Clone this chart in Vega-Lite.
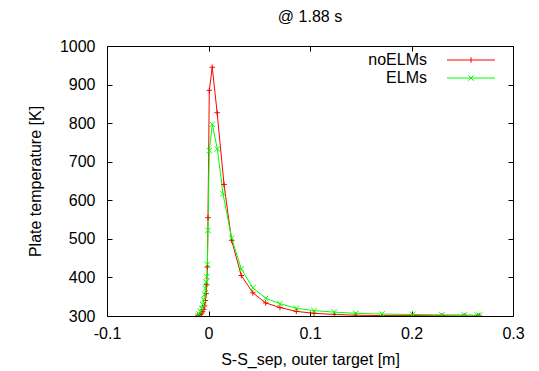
{
  "$schema": "https://vega.github.io/schema/vega-lite/v6.json",
  "width": 406,
  "height": 270,
  "autosize": "none",
  "padding": {"left": 107, "top": 46, "right": 26, "bottom": 55},
  "background": "white",
  "title": {"text": "@ 1.88 s", "fontSize": 16, "font": "Liberation Sans", "fontWeight": "normal", "color": "black", "frame": "group", "anchor": "middle", "offset": 13},
  "config": {
    "view": {"stroke": "black", "strokeWidth": 1},
    "font": "Liberation Sans",
    "axis": {"domain": false, "grid": false, "labelFlush": false, "tickColor": "black", "tickSize": -5, "tickWidth": 1, "labelFont": "Liberation Sans", "labelFontSize": 16, "labelColor": "black", "titleFont": "Liberation Sans", "titleFontSize": 16, "titleFontWeight": "normal", "titleColor": "black"},
    "legend": {"labelFont": "Liberation Sans", "labelFontSize": 16, "labelColor": "black"}
  },
  "data": {"values": [
    {"s": -0.0105, "T": 300.5, "series": "noELMs"},
    {"s": -0.0092, "T": 302, "series": "noELMs"},
    {"s": -0.008, "T": 304, "series": "noELMs"},
    {"s": -0.0068, "T": 307, "series": "noELMs"},
    {"s": -0.0057, "T": 311, "series": "noELMs"},
    {"s": -0.0047, "T": 317, "series": "noELMs"},
    {"s": -0.0038, "T": 326, "series": "noELMs"},
    {"s": -0.003, "T": 340, "series": "noELMs"},
    {"s": -0.0023, "T": 358, "series": "noELMs"},
    {"s": -0.0017, "T": 381, "series": "noELMs"},
    {"s": -0.0011, "T": 427, "series": "noELMs"},
    {"s": -0.0005, "T": 555, "series": "noELMs"},
    {"s": 0.0008, "T": 885, "series": "noELMs"},
    {"s": 0.0037, "T": 945, "series": "noELMs"},
    {"s": 0.0085, "T": 827, "series": "noELMs"},
    {"s": 0.0153, "T": 641, "series": "noELMs"},
    {"s": 0.0228, "T": 496, "series": "noELMs"},
    {"s": 0.0323, "T": 405, "series": "noELMs"},
    {"s": 0.0437, "T": 360, "series": "noELMs"},
    {"s": 0.0563, "T": 334, "series": "noELMs"},
    {"s": 0.0704, "T": 322, "series": "noELMs"},
    {"s": 0.0865, "T": 312, "series": "noELMs"},
    {"s": 0.104, "T": 307, "series": "noELMs"},
    {"s": 0.124, "T": 304, "series": "noELMs"},
    {"s": 0.145, "T": 302, "series": "noELMs"},
    {"s": 0.171, "T": 301, "series": "noELMs"},
    {"s": 0.201, "T": 301, "series": "noELMs"},
    {"s": 0.23, "T": 300.5, "series": "noELMs"},
    {"s": 0.252, "T": 300, "series": "noELMs"},
    {"s": 0.265, "T": 300, "series": "noELMs"},
    {"s": 0.267, "T": 300, "series": "noELMs"},
    {"s": -0.0105, "T": 301, "series": "ELMs"},
    {"s": -0.0092, "T": 305, "series": "ELMs"},
    {"s": -0.008, "T": 312, "series": "ELMs"},
    {"s": -0.0068, "T": 320, "series": "ELMs"},
    {"s": -0.0057, "T": 330, "series": "ELMs"},
    {"s": -0.0047, "T": 342, "series": "ELMs"},
    {"s": -0.0038, "T": 356, "series": "ELMs"},
    {"s": -0.003, "T": 372, "series": "ELMs"},
    {"s": -0.0023, "T": 388, "series": "ELMs"},
    {"s": -0.0017, "T": 402, "series": "ELMs"},
    {"s": -0.0011, "T": 434, "series": "ELMs"},
    {"s": -0.0005, "T": 522, "series": "ELMs"},
    {"s": 0.0008, "T": 729, "series": "ELMs"},
    {"s": 0.0037, "T": 797, "series": "ELMs"},
    {"s": 0.0087, "T": 733, "series": "ELMs"},
    {"s": 0.0143, "T": 617, "series": "ELMs"},
    {"s": 0.0228, "T": 502, "series": "ELMs"},
    {"s": 0.0323, "T": 422, "series": "ELMs"},
    {"s": 0.0437, "T": 373, "series": "ELMs"},
    {"s": 0.0563, "T": 346, "series": "ELMs"},
    {"s": 0.0704, "T": 332, "series": "ELMs"},
    {"s": 0.0865, "T": 320, "series": "ELMs"},
    {"s": 0.104, "T": 314, "series": "ELMs"},
    {"s": 0.124, "T": 310, "series": "ELMs"},
    {"s": 0.145, "T": 307, "series": "ELMs"},
    {"s": 0.171, "T": 305, "series": "ELMs"},
    {"s": 0.201, "T": 304, "series": "ELMs"},
    {"s": 0.23, "T": 303, "series": "ELMs"},
    {"s": 0.252, "T": 303, "series": "ELMs"},
    {"s": 0.265, "T": 302, "series": "ELMs"},
    {"s": 0.267, "T": 302, "series": "ELMs"}
  ]},
  "layer": [
    {
      "mark": {"type": "line", "strokeWidth": 1, "clip": true},
      "encoding": {
        "x": {"field": "s", "type": "quantitative", "scale": {"domain": [-0.1, 0.3], "nice": false, "zero": false},
              "axis": {"orient": "bottom", "values": [-0.1, 0, 0.1, 0.2, 0.3], "labelExpr": "'' + datum.value", "labelPadding": 14, "title": "S-S_sep, outer target [m]", "titlePadding": 10}},
        "y": {"field": "T", "type": "quantitative", "scale": {"domain": [300, 1000], "nice": false, "zero": false},
              "axis": {"orient": "left", "values": [300, 400, 500, 600, 700, 800, 900, 1000], "labelExpr": "'' + datum.value", "labelPadding": 17, "title": "Plate temperature [K]", "titlePadding": 16}},
        "color": {"field": "series", "type": "nominal", "sort": ["noELMs", "ELMs"],
                  "scale": {"domain": ["noELMs", "ELMs"], "range": ["#ff0000", "#00ff00"]},
                  "legend": {"title": null, "orient": "none", "legendX": 356, "legendY": 6, "padding": 0, "rowPadding": 2, "symbolSize": 30, "symbolStrokeWidth": 1, "labelAlign": "right", "labelOffset": -52,
                             "encode": {"symbols": {"update": {"shape": {"signal": "datum.value === 'noELMs' ? 'M-8.76,0L8.76,0M0,-1L0,1' : 'M-8.76,0L8.76,0M-1,-1L1,1M-1,1L1,-1'"}, "fill": {"value": "transparent"}, "strokeWidth": {"value": 1}}}}}}
      }
    },
    {
      "transform": [{"filter": "datum.series === 'noELMs'"}],
      "mark": {"type": "point", "filled": false, "size": 30, "strokeWidth": 1, "opacity": 1, "clip": true, "shape": "M-1,0L1,0M0,-1L0,1", "color": "#ff0000"},
      "encoding": {
        "x": {"field": "s", "type": "quantitative", "scale": {"domain": [-0.1, 0.3], "nice": false, "zero": false},
              "axis": {"orient": "top", "values": [-0.1, 0, 0.1, 0.2, 0.3], "labels": false, "title": null}},
        "y": {"field": "T", "type": "quantitative", "scale": {"domain": [300, 1000], "nice": false, "zero": false},
              "axis": {"orient": "right", "values": [300, 400, 500, 600, 700, 800, 900, 1000], "labels": false, "title": null}}
      }
    },
    {
      "transform": [{"filter": "datum.series === 'ELMs'"}],
      "mark": {"type": "point", "filled": false, "size": 30, "strokeWidth": 1, "opacity": 1, "clip": true, "shape": "M-1,-1L1,1M-1,1L1,-1", "color": "#00ff00"},
      "encoding": {
        "x": {"field": "s", "type": "quantitative", "axis": null},
        "y": {"field": "T", "type": "quantitative", "axis": null}
      }
    }
  ],
  "resolve": {"axis": {"x": "independent", "y": "independent"}}
}
